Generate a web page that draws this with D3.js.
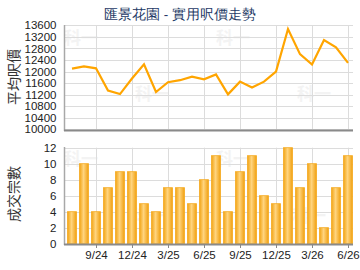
<!DOCTYPE html>
<html><head><meta charset="utf-8">
<script src="https://cdn.jsdelivr.net/npm/d3@7"></script>
<style>body{margin:0;background:#fff}svg{display:block}</style>
</head><body><svg id="c" width="360" height="270"></svg>
<script>
const months = ["7/24","8/24","9/24","10/24","11/24","12/24","1/25","2/25","3/25","4/25","5/25","6/25","7/25","8/25","9/25","10/25","11/25","12/25","1/26","2/26","3/26","4/26","5/26","6/26"];
const prices = [12100,12180,12110,11340,11220,11760,12250,11290,11630,11700,11820,11730,11900,11210,11650,11450,11650,12000,13470,12600,12240,13090,12840,12300];
const deals = [4,10,4,7,9,9,5,4,7,7,5,8,11,4,9,11,6,5,12,7,10,2,7,11];
const xTickLabels = ["9/24","12/24","3/25","6/25","9/25","12/25","3/26","6/26"];
const priceTicks = [10000,10400,10800,11200,11600,12000,12400,12800,13200,13600];
const dealTicks = [0,2,4,6,8,10,12];
const title = "匯景花園 - 實用呎價走勢";

const svg = d3.select("#c");
const font = "Liberation Sans, Arial, sans-serif";
const L = 64.5, R = 353;
const x = d3.scalePoint().domain(months).range([72, 348]);

const defs = svg.append("defs");
const g = defs.append("linearGradient").attr("id","bg").attr("x1","0").attr("x2","1").attr("y1","0").attr("y2","0");
g.append("stop").attr("offset","0").attr("stop-color","#F2A414");
g.append("stop").attr("offset","0.45").attr("stop-color","#FFD47E");
g.append("stop").attr("offset","1").attr("stop-color","#F0A010");

svg.append("text").attr("x",180).attr("y",19).attr("text-anchor","middle")
  .attr("font-family",font).attr("font-size",13.5).attr("fill","#1E3A66").text(title);

// faint watermarks
const wm = [[64,44],[135,100],[297,100],[216,44],[64,165],[130,222],[216,165],[292,222]];
svg.append("g").selectAll("text").data(wm).join("text")
  .attr("x",d=>d[0]).attr("y",d=>d[1]).attr("font-size",17).attr("font-weight","bold")
  .attr("fill","#f3f3f3").attr("font-family","Noto Sans CJK TC").text("科一");

function panel(y0, y1, domain, ticks, fmt) {
  const y = d3.scaleLinear().domain(domain).range([y1, y0]);
  const gg = svg.append("g");
  gg.selectAll("line.h").data(ticks).join("line").attr("class","h")
    .attr("x1",L).attr("x2",R).attr("y1",d=>Math.round(y(d))+0.5).attr("y2",d=>Math.round(y(d))+0.5)
    .attr("stroke","#dcdcdc");
  gg.selectAll("line.v").data(xTickLabels).join("line").attr("class","v")
    .attr("x1",d=>Math.round(x(d))+0.5).attr("x2",d=>Math.round(x(d))+0.5)
    .attr("y1",y0).attr("y2",y1).attr("stroke","#dcdcdc");
  const ax = svg.append("g").attr("transform",`translate(${L},0)`)
    .call(d3.axisLeft(y).tickValues(ticks).tickSize(0).tickPadding(8).tickFormat(fmt));
  ax.select(".domain").remove();
  ax.selectAll("text").attr("font-family",font).attr("font-size",11.5).attr("fill","#222");
  return y;
}

const yP = panel(25.3, 129.3, [10000,13600], priceTicks, d3.format("d"));
const line = d3.line().x((d,i)=>x(months[i])).y(d=>yP(d));
svg.append("path").datum(prices).attr("d",line).attr("fill","none")
  .attr("stroke","#FFA500").attr("stroke-width",2.2).attr("stroke-linejoin","miter");
svg.append("line").attr("x1",L).attr("x2",L).attr("y1",25).attr("y2",131).attr("stroke","#a8a8a8").attr("stroke-width",1.5);
svg.append("line").attr("x1",L-0.5).attr("x2",R).attr("y1",130.5).attr("y2",130.5).attr("stroke","#8a8a8a").attr("stroke-width",2);

const yD = panel(147.7, 243.7, [0,12], dealTicks, d3.format("d"));
const bw = 9;
svg.append("g").selectAll("rect").data(deals).join("rect")
  .attr("x",(d,i)=>x(months[i])-bw/2).attr("width",bw)
  .attr("y",d=>yD(d)).attr("height",d=>yD(0)-yD(d))
  .attr("fill","url(#bg)").attr("stroke","#F5AA20").attr("stroke-width",0.8);
svg.append("line").attr("x1",L).attr("x2",L).attr("y1",147).attr("y2",245).attr("stroke","#a8a8a8").attr("stroke-width",1.5);
svg.append("line").attr("x1",L-0.5).attr("x2",R).attr("y1",244.5).attr("y2",244.5).attr("stroke","#8a8a8a").attr("stroke-width",2);
const bx = svg.append("g").attr("transform","translate(0,244)")
  .call(d3.axisBottom(x).tickValues(xTickLabels).tickSize(4).tickPadding(3));
bx.select(".domain").remove();
bx.selectAll("line").attr("stroke","#888");
bx.selectAll("text").attr("font-family",font).attr("font-size",11.5).attr("fill","#222");

const cjk = "Noto Sans CJK TC, sans-serif";
svg.append("text").attr("transform","translate(19,77) rotate(-90)").attr("text-anchor","middle")
  .attr("font-family",cjk).attr("font-size",14).attr("fill","#333").text("平均呎價");
svg.append("text").attr("transform","translate(19,194) rotate(-90)").attr("text-anchor","middle")
  .attr("font-family",cjk).attr("font-size",14).attr("fill","#333").text("成交宗數");
</script></body></html>
